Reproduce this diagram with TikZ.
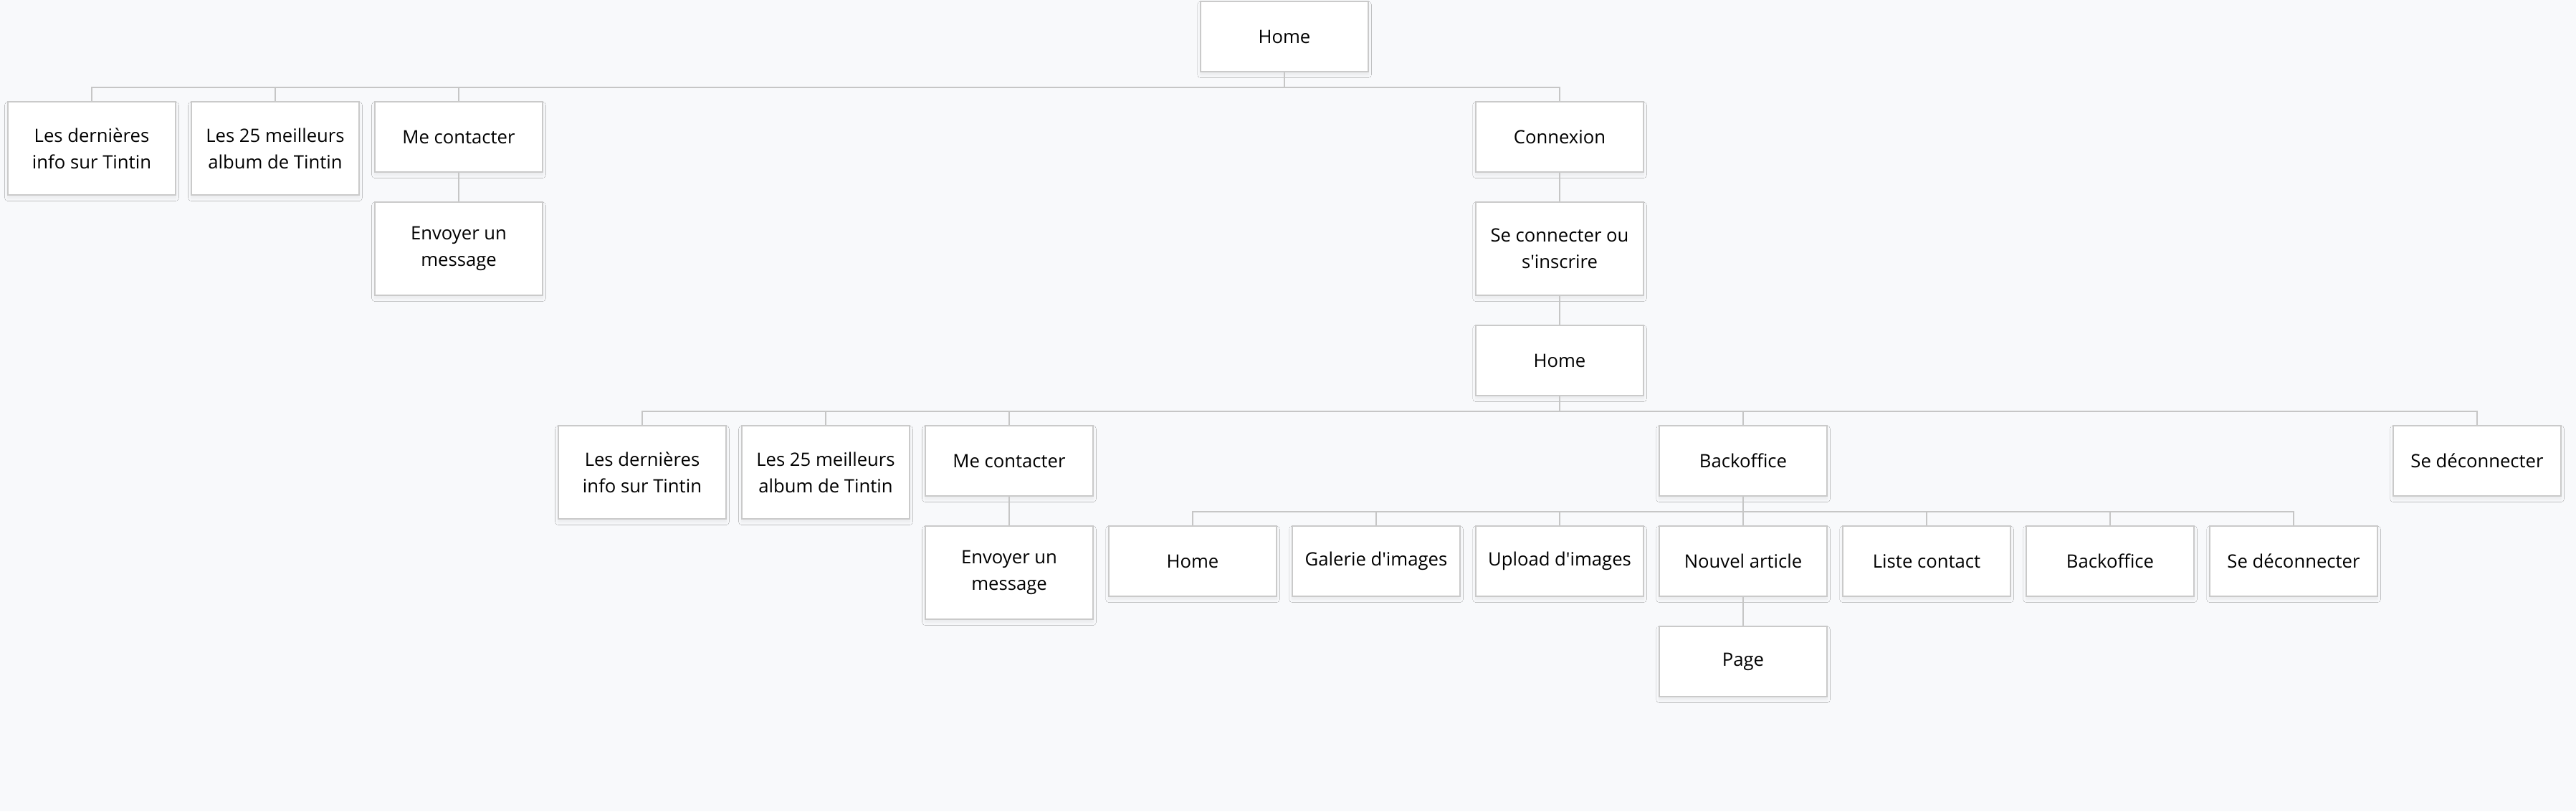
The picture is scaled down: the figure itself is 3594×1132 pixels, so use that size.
\documentclass[tikz,border=0pt]{standalone}
\usepackage{fontspec}
\setmainfont{Open Sans}
\usetikzlibrary{shadows.blur}
\definecolor{bg}{HTML}{F8F9FB}
\definecolor{bordc}{HTML}{CACACA}
\definecolor{linec}{HTML}{C6C6C6}
\newcommand{\sq}{\XeTeXglyph\XeTeXcharglyph"27\relax}
\tikzset{
  pagebox/.style={draw=bordc, line width=0.6pt, fill=white, rectangle, anchor=north,
    minimum width=2.34cm, minimum height=0.98cm, inner sep=0pt, align=center,
    font=\fontsize{7.3}{10.6}\selectfont,
    blur shadow={shadow xshift=0pt, shadow yshift=-1.2pt, shadow blur radius=1.2pt, shadow blur steps=6, shadow opacity=6}},
  tallbox/.style={pagebox, minimum height=1.30cm},
  link/.style={draw=linec, line width=0.6pt}
}
\begin{document}
\begin{tikzpicture}[x=0.01cm,y=-0.01cm]
\useasboundingbox (0,0) rectangle (3594,1132);
\fill[bg] (0,0) rectangle (3594,1132);
% level 0
\node[pagebox] (home) at (1792,1) {Home};
% level 1
\node[tallbox] (derA) at (128,141) {Les dernières\\info sur Tintin};
\node[tallbox] (bestA) at (384,141) {Les 25 meilleurs\\album de Tintin};
\node[pagebox] (contA) at (640,141) {Me contacter};
\node[tallbox] (msgA) at (640,281) {Envoyer un\\message};
\node[pagebox] (conn) at (2176,141) {Connexion};
\node[tallbox] (login) at (2176,281) {Se connecter ou\\s\sq inscrire};
\node[pagebox] (home2) at (2176,453) {Home};
% level 2
\node[tallbox] (derB) at (896,593) {Les dernières\\info sur Tintin};
\node[tallbox] (bestB) at (1152,593) {Les 25 meilleurs\\album de Tintin};
\node[pagebox] (contB) at (1408,593) {Me contacter};
\node[tallbox] (msgB) at (1408,733) {Envoyer un\\message};
\node[pagebox] (bo) at (2432,593) {Backoffice};
\node[pagebox] (logout) at (3456,593) {Se déconnecter};
% level 3
\node[pagebox] (boHome) at (1664,733) {Home};
\node[pagebox] (gal) at (1920,733) {Galerie d\sq images};
\node[pagebox] (upl) at (2176,733) {Upload d\sq images};
\node[pagebox] (art) at (2432,733) {Nouvel article};
\node[pagebox] (lst) at (2688,733) {Liste contact};
\node[pagebox] (bo2) at (2944,733) {Backoffice};
\node[pagebox] (logout2) at (3200,733) {Se déconnecter};
\node[pagebox] (page) at (2432,873) {Page};
% connectors
\foreach \c in {derA,bestA,contA,conn}
  \draw[link] (home.south) -- ++(0,21) -| (\c.north);
\draw[link] (contA.south) -- (msgA.north);
\draw[link] (conn.south) -- (login.north);
\draw[link] (login.south) -- (home2.north);
\foreach \c in {derB,bestB,contB,bo,logout}
  \draw[link] (home2.south) -- ++(0,21) -| (\c.north);
\draw[link] (contB.south) -- (msgB.north);
\foreach \c in {boHome,gal,upl,art,lst,bo2,logout2}
  \draw[link] (bo.south) -- ++(0,21) -| (\c.north);
\draw[link] (art.south) -- (page.north);
\end{tikzpicture}
\end{document}
